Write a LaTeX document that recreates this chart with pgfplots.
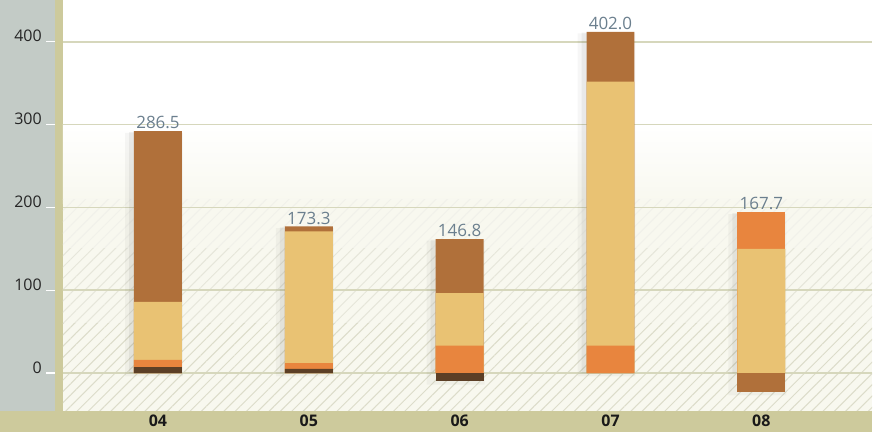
\documentclass[border=0pt]{standalone}
\usepackage{fontspec}
\setmainfont{Open Sans}
\usepackage{pgfplots}
\pgfplotsset{compat=1.18}
\usetikzlibrary{patterns.meta}
\definecolor{panel}{HTML}{C3CBC6}
\definecolor{khaki}{HTML}{CDCA9C}
\definecolor{gridc}{HTML}{D6D7BC}
\definecolor{cream}{HTML}{F8F8EF}
\definecolor{hatch}{HTML}{DCDCCA}
\definecolor{brownc}{HTML}{B0703A}
\definecolor{tanc}{HTML}{E9C273}
\definecolor{orangec}{HTML}{E8853E}
\definecolor{darkc}{HTML}{5C3F26}
\definecolor{valc}{HTML}{6B7F8E}

\begin{document}
\begin{tikzpicture}
\begin{axis}[
    set layers,
    width=810pt, height=411pt, scale only axis,
    xmin=-0.63, xmax=4.735,
    ymin=-45.5, ymax=450.3,
    axis line style={draw=none},
    ymajorgrids, grid style={gridc, line width=1.6pt},
    major tick length=0pt,
    /pgf/number format/assume math mode=true,
    ytick={0,100,200,300,400},
    yticklabel={\pgfmathprintnumber{\tick}\hspace{4pt}{\color{white}\rule[-0.6pt]{9pt}{1.3pt}}},
    yticklabel style={anchor=base east, inner sep=0pt, xshift=-8pt, font=\fontsize{16}{16}\selectfont, text=black!85},
    xtick={0,1,2,3,4},
    xticklabels={04,05,06,07,08},
    xticklabel style={anchor=north, inner sep=0pt, yshift=-4pt, font=\fontsize{16}{16}\selectfont\bfseries, text=black!90},
    clip=false,
]
\begin{pgfonlayer}{axis background}
% frame around the plot area
\fill[khaki] ([xshift=-63pt,yshift=-21pt]rel axis cs:0,0) rectangle (rel axis cs:1,0);
\fill[khaki] ([xshift=-8pt]rel axis cs:0,0) rectangle (rel axis cs:0,1);
\fill[panel] ([xshift=-63pt]rel axis cs:0,0) rectangle ([xshift=-8pt]rel axis cs:0,1);
\fill[white] (rel axis cs:0,0) rectangle (rel axis cs:1,1);
\fill[top color=white, bottom color=cream] (axis cs:-0.63,205) rectangle (axis cs:4.735,300);
\fill[cream] (axis cs:-0.63,-45.5) rectangle (axis cs:4.735,205);
\fill[pattern={Lines[angle=45, distance=8pt, line width=1pt]}, pattern color=hatch!40]
    (axis cs:-0.63,150) rectangle (axis cs:4.735,210);
\fill[pattern={Lines[angle=45, distance=8pt, line width=1pt]}, pattern color=hatch!70]
    (axis cs:-0.63,60) rectangle (axis cs:4.735,150);
\fill[pattern={Lines[angle=45, distance=8pt, line width=1pt]}, pattern color=hatch]
    (axis cs:-0.63,-45.5) rectangle (axis cs:4.735,60);
\end{pgfonlayer}

% soft shadows behind the bars
\addplot[ybar, bar width=58pt, bar shift=-4pt, fill=black, fill opacity=0.035, draw=none]
    coordinates {(0,290) (1,175) (2,160) (3,410) (4,192)};
\addplot[ybar, bar width=52pt, bar shift=-3pt, fill=black, fill opacity=0.05, draw=none]
    coordinates {(0,291) (1,176) (2,161) (3,411) (4,193)};
\addplot[ybar, bar width=58pt, bar shift=-4pt, fill=black, fill opacity=0.035, draw=none]
    coordinates {(0,-4) (1,-4) (2,-14) (3,-4) (4,-27)};

% each segment drawn from zero up to its top level, tallest first
\addplot[ybar, bar width=48pt, bar shift=0pt, fill=brownc, draw=none]
    coordinates {(0,292) (1,177) (2,161.7) (3,412)};
\addplot[ybar, bar width=48pt, bar shift=0pt, fill=orangec, draw=none]
    coordinates {(4,194)};
\addplot[ybar, bar width=48pt, bar shift=0pt, fill=tanc, draw=none]
    coordinates {(0,86) (1,171) (2,96.5) (3,352) (4,150)};
\addplot[ybar, bar width=48pt, bar shift=0pt, fill=orangec, draw=none]
    coordinates {(0,16) (1,12) (2,33) (3,33)};
\addplot[ybar, bar width=48pt, bar shift=0pt, fill=darkc, draw=none]
    coordinates {(0,7) (1,5)};
% negative parts
\addplot[ybar, bar width=48pt, bar shift=0pt, fill=darkc, draw=none]
    coordinates {(2,-10)};
\addplot[ybar, bar width=48pt, bar shift=0pt, fill=brownc, draw=none]
    coordinates {(4,-23.4)};

% totals above the bars
\addplot[ybar, bar width=48pt, bar shift=0pt, fill=none, draw=none,
    nodes near coords, point meta=explicit symbolic,
    every node near coord/.style={anchor=south, yshift=1pt, inner sep=1pt, text=valc,
    font=\fontsize{17}{17}\selectfont}]
    coordinates {(0,292)[286.5] (1,177)[173.3] (2,161.7)[146.8] (3,412)[402.0] (4,194)[167.7]};
\end{axis}
\end{tikzpicture}
\end{document}
